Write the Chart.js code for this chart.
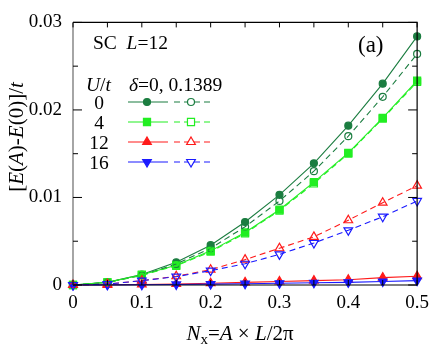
<!DOCTYPE html>
<html><head><meta charset="utf-8">
<script src="https://cdn.jsdelivr.net/npm/chart.js@4/dist/chart.umd.min.js"></script>
<style>html,body{margin:0;padding:0;background:#fff}#wrap{width:436px;height:352px}</style>
</head><body><div id="wrap"><canvas id="c" width="436" height="352"></canvas></div>
<script>
// ---- data ----
const nx = [0, 0.05, 0.1, 0.15, 0.2, 0.25, 0.3, 0.35, 0.4, 0.45, 0.5];
const u0_d0    = [0, 0.0003, 0.0012, 0.0026, 0.00455, 0.0072, 0.0103, 0.0139, 0.0182, 0.0230, 0.0284];
const u0_d1    = [0, 0.0003, 0.0011, 0.0024, 0.0042, 0.00665, 0.0096, 0.0130, 0.0170, 0.0215, 0.0264];
const u4_d0    = [0, 0.0003, 0.00117, 0.00226, 0.0039, 0.0060, 0.0086, 0.01175, 0.0151, 0.0191, 0.02335];
const u4_d1    = [0, 0.0003, 0.00112, 0.0022, 0.0038, 0.0059, 0.0085, 0.0116, 0.0150, 0.0190, 0.0232];
const u12_d0   = [0, 0.00002, 0.00006, 0.00012, 0.0002, 0.0003, 0.0004, 0.0005, 0.0006, 0.00084, 0.0010];
const u12_d1   = [0, 0.0001, 0.0005, 0.0010, 0.00175, 0.0029, 0.0042, 0.0055, 0.0074, 0.0094, 0.01135];
const u16_d0   = [0, 0.00001, 0.00003, 0.00006, 0.0001, 0.00015, 0.0002, 0.00025, 0.0003, 0.0004, 0.0005];
const u16_d1   = [0, 0.0001, 0.0005, 0.00095, 0.00164, 0.00243, 0.0035, 0.0048, 0.00625, 0.0078, 0.0096];
const uLabels  = ['0', '4', '12', '16'];
const xTicks = [0, 0.1, 0.2, 0.3, 0.4, 0.5];
const yTicks = [0, 0.01, 0.02, 0.03];

const C_DG = '#1b7d40', C_LG = '#22ee22', C_R = '#ff1a1a', C_B = '#1a1aff';
const SERIF = '"Liberation Serif","Times New Roman",serif';

function pts(arr){ return arr.map((v,i)=>({x:nx[i], y:v})); }
function ds(arr, color, style, filled, dashed, radius, rot){
  return {
    data: pts(arr), borderColor: color, backgroundColor: filled ? color : '#fff',
    borderWidth: 1.1, borderDash: dashed ? [6,4] : [],
    pointStyle: style, pointRotation: rot||0, pointRadius: radius, pointHoverRadius: radius,
    pointBorderColor: color, pointBackgroundColor: filled ? color : 'rgba(255,255,255,0)',
    pointBorderWidth: 1.2, tension: 0, clip: false, fill: false
  };
}
const series = [
  ds(u16_d1, C_B, 'triangle', false, true, 5, 180),
  ds(u12_d1, C_R, 'triangle', false, true, 5, 0),
  ds(u4_d1, C_LG, 'rect', false, true, 5, 0),
  ds(u0_d1, C_DG, 'circle', false, true, 3.5, 0),
  ds(u16_d0, C_B, 'triangle', true, false, 5, 180),
  ds(u12_d0, C_R, 'triangle', true, false, 5, 0),
  ds(u4_d0, C_LG, 'rect', true, false, 5, 0),
  ds(u0_d0, C_DG, 'circle', true, false, 3.5, 0),
];
const legendRows = [
  {label: uLabels[0], color: C_DG, style: 'circle', r: 3.5, rot: 0},
  {label: uLabels[1], color: C_LG, style: 'rect', r: 5, rot: 0},
  {label: uLabels[2], color: C_R, style: 'triangle', r: 5, rot: 0},
  {label: uLabels[3], color: C_B, style: 'triangle', r: 5, rot: 180},
];

const framePlugin = {
  id: 'frame',
  afterDraw(chart){
    const ctx = chart.ctx, a = chart.chartArea;
    const xs = chart.scales.x, ys = chart.scales.y;
    ctx.save();
    // frame
    ctx.setLineDash([]); ctx.lineWidth = 1.2;
    ctx.strokeStyle = '#000';
    ctx.beginPath(); ctx.moveTo(a.left, a.top); ctx.lineTo(a.right, a.top); ctx.lineTo(a.right, a.bottom); ctx.lineTo(a.left, a.bottom); ctx.stroke();
    ctx.strokeStyle = '#6a6a6a';
    ctx.beginPath(); ctx.moveTo(a.left, a.top); ctx.lineTo(a.left, a.bottom); ctx.stroke();
    // ticks
    ctx.lineWidth = 1; ctx.strokeStyle = '#000';
    for (let i = 0; i <= 10; i++){
      const v = i*0.05, px = xs.getPixelForValue(v);
      ctx.beginPath(); ctx.moveTo(px, a.bottom); ctx.lineTo(px, a.bottom - 5); ctx.stroke();
      ctx.beginPath(); ctx.moveTo(px, a.top); ctx.lineTo(px, a.top + 5); ctx.stroke();
    }
    for (let i = 0; i <= 6; i++){
      const v = i*0.005, py = ys.getPixelForValue(v), L = (i%2===0) ? 9 : 5;
      ctx.beginPath(); ctx.moveTo(a.left, py); ctx.lineTo(a.left + L, py); ctx.stroke();
      ctx.beginPath(); ctx.moveTo(a.right, py); ctx.lineTo(a.right - L, py); ctx.stroke();
    }
    // axis titles
    ctx.fillStyle = '#000'; ctx.textBaseline = 'alphabetic';
    const F = 21;
    const parts = [
      {t:'N', f:'italic '+F+'px '+SERIF},
      {t:'x', f:'15px '+SERIF, dy: 4},
      {t:'=', f:F+'px '+SERIF},
      {t:'A', f:'italic '+F+'px '+SERIF},
      {t:' × ', f:F+'px '+SERIF},
      {t:'L', f:'italic '+F+'px '+SERIF},
      {t:'/2π', f:F+'px '+SERIF},
    ];
    drawParts(ctx, parts, 240, 340, 'center');
    ctx.save();
    ctx.translate(23, 137); ctx.rotate(-Math.PI/2);
    const yparts = [
      {t:'[', f:F+'px '+SERIF},
      {t:'E', f:'italic '+F+'px '+SERIF},
      {t:'(', f:F+'px '+SERIF},
      {t:'A', f:'italic '+F+'px '+SERIF},
      {t:')-', f:F+'px '+SERIF},
      {t:'E', f:'italic '+F+'px '+SERIF},
      {t:'(0)]/', f:F+'px '+SERIF},
      {t:'t', f:'italic '+F+'px '+SERIF},
    ];
    drawParts(ctx, yparts, 0, 0, 'center');
    ctx.restore();
    // annotations
    const G = 19.5;
    drawParts(ctx, [{t:'SC  ', f:G+'px '+SERIF},{t:'L', f:'italic '+G+'px '+SERIF},{t:'=12', f:G+'px '+SERIF}], 93, 49, 'left');
    drawParts(ctx, [{t:'(a)', f:'23px '+SERIF}], 358, 52, 'left');
    drawParts(ctx, [{t:'U', f:'italic '+G+'px '+SERIF},{t:'/', f:G+'px '+SERIF},{t:'t', f:'italic '+G+'px '+SERIF}], 86, 91, 'left');
    drawParts(ctx, [{t:'δ', f:'italic '+G+'px '+SERIF},{t:'=0, 0.1389', f:G+'px '+SERIF}], 129, 91, 'left');
    // legend rows
    legendRows.forEach((r, i) => {
      const y = 102 + i*20;
      ctx.font = G + 'px ' + SERIF; ctx.textAlign = 'center'; ctx.fillStyle = '#000';
      ctx.fillText(r.label, 99, y + 7);
      ctx.strokeStyle = r.color; ctx.lineWidth = 1.1;
      ctx.setLineDash([]);
      ctx.beginPath(); ctx.moveTo(128, y); ctx.lineTo(168, y); ctx.stroke();
      ctx.setLineDash([6,4]);
      ctx.beginPath(); ctx.moveTo(174, y); ctx.lineTo(212, y); ctx.stroke();
      ctx.setLineDash([]);
      ctx.lineWidth = 1.2;
      ctx.fillStyle = r.color;
      Chart.helpers.drawPoint(ctx, {pointStyle: r.style, radius: r.r, rotation: r.rot, borderWidth: 1.2}, 147, y);
      ctx.fillStyle = '#fff';
      Chart.helpers.drawPoint(ctx, {pointStyle: r.style, radius: r.r, rotation: r.rot, borderWidth: 1.2}, 191, y);
    });
    ctx.restore();
  }
};
function drawParts(ctx, parts, x, y, align){
  let total = 0;
  parts.forEach(p => { ctx.font = p.f; total += ctx.measureText(p.t).width; });
  let cx = align === 'center' ? x - total/2 : x;
  ctx.textAlign = 'left';
  parts.forEach(p => { ctx.font = p.f; ctx.fillText(p.t, cx, y + (p.dy||0)); cx += ctx.measureText(p.t).width; });
}

new Chart(document.getElementById('c'), {
  type: 'line',
  data: { datasets: series },
  options: {
    responsive: false, animation: false, devicePixelRatio: 1,
    layout: { padding: { top: 10, right: 18, left: 0, bottom: 0 } },
    plugins: { legend: { display: false }, tooltip: { enabled: false } },
    scales: {
      x: {
        type: 'linear', min: 0, max: 0.5,
        afterFit(s){ s.height = 67; },
        afterBuildTicks(s){ s.ticks = xTicks.map(v => ({value: v})); },
        ticks: { font: { family: SERIF, size: 19 }, color: '#000', padding: 7,
                 callback: v => String(v) },
        grid: { display: false, drawTicks: false }, border: { display: false }
      },
      y: {
        type: 'linear', min: 0, max: 0.03,
        afterFit(s){ s.width = 73; },
        afterBuildTicks(s){ s.ticks = yTicks.map(v => ({value: v})); },
        ticks: { font: { family: SERIF, size: 19 }, color: '#000', padding: 11,
                 callback: v => String(v) },
        grid: { display: false, drawTicks: false }, border: { display: false }
      }
    }
  },
  plugins: [framePlugin]
});
</script></body></html>
